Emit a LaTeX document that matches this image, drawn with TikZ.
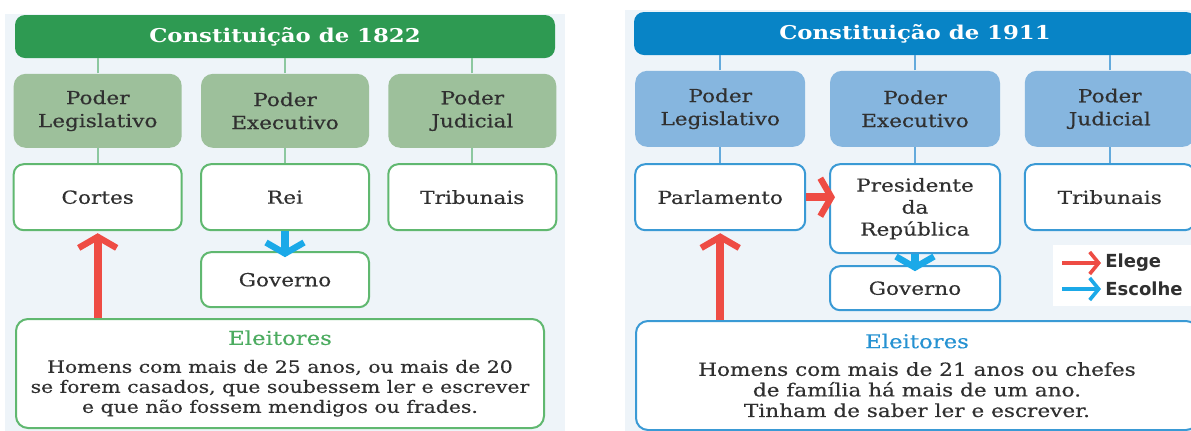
\documentclass[tikz,border=0pt]{standalone}
\usepackage{fontspec}
\setmainfont{DejaVu Serif}[FakeStretch=1.2, UprightFeatures={FakeBold=0.35}]
\newfontfamily\legfont{DejaVu Sans}
\usepackage{xcolor}
\usetikzlibrary{positioning, arrows.meta}
\definecolor{fundo}{RGB}{238, 244, 249}
\definecolor{texto}{RGB}{48, 48, 48}
\definecolor{gtitle}{RGB}{46, 154, 82}
\definecolor{gpoder}{RGB}{157, 192, 155}
\definecolor{gborda}{RGB}{96, 184, 112}
\definecolor{glink}{RGB}{140, 200, 160}
\definecolor{gelt}{RGB}{76, 172, 96}
\definecolor{btitle}{RGB}{8, 132, 198}
\definecolor{bpoder}{RGB}{134, 182, 223}
\definecolor{bborda}{RGB}{58, 154, 213}
\definecolor{blink}{RGB}{100, 170, 220}
\definecolor{belt}{RGB}{38, 146, 210}
\definecolor{seta1}{RGB}{238, 76, 68}
\definecolor{seta2}{RGB}{27, 169, 232}
\tikzset{
  titulo/.style={
    rounded corners=5pt, minimum height=21.5pt,
    text=white, font=\bfseries\fontsize{9.5}{11}\selectfont,
  },
  poder/.style={
    rounded corners=6pt, minimum height=37pt, minimum width=84pt,
    align=center, text=texto, font=\fontsize{9}{11.5}\selectfont,
  },
  orgao/.style={
    fill=white, line width=1pt, rounded corners=5pt,
    minimum height=33pt, minimum width=84pt,
    align=center, text=texto, font=\fontsize{9}{11}\selectfont,
  },
  eleit/.style={
    fill=white, line width=1pt, rounded corners=6pt,
    align=center, text=texto, font=\fontsize{8.5}{10}\selectfont,
  },
  liga/.style={line width=1pt},
  elege/.style={draw=seta1, line width=4pt,
    -{Straight Barb[length=5.5pt, width=19pt, line width'=3.2pt]}},
  escolhe/.style={draw=seta2, line width=4pt,
    -{Straight Barb[length=5.5pt, width=19pt, line width'=3.2pt]}},
  legseta/.style={line width=1.75pt,
    -{Straight Barb[length=4.5pt, width=11pt, line width'=1.8pt]}},
  legtxt/.style={inner sep=2pt, text=texto,
    font=\legfont\bfseries\fontsize{9}{10}\selectfont},
}
\newcommand{\eltit}[2]{\textcolor{#1}{\fontsize{9.5}{12}\selectfont #2}}

\begin{document}
\begin{tikzpicture}[x=1pt, y=-1pt, node distance=7.5pt and 9.25pt]
\clip (0,0) rectangle (595.5,215);

% fundos dos dois quadros
\fill[fundo] (2.5,7) rectangle (282.5,216);
\fill[fundo] (312.5,5) rectangle (597,216);

% ---- Constituição de 1822
\node[titulo, fill=gtitle, minimum width=270pt] (titL) at (142.5,18.25) {Constituição de 1822};

\node[poder, fill=gpoder, below=of titL] (exeL) {Poder\\Executivo};
\node[poder, fill=gpoder, left=of exeL] (legL) {Poder\\Legislativo};
\node[poder, fill=gpoder, right=of exeL] (judL) {Poder\\Judicial};

\node[orgao, draw=gborda, below=of legL] (cortes) {Cortes};
\node[orgao, draw=gborda, below=of exeL] (rei) {Rei};
\node[orgao, draw=gborda, below=of judL] (tribL) {Tribunais};
\node[orgao, draw=gborda, minimum height=27.5pt, below=10pt of rei] (govL) {Governo};

\node[eleit, draw=gborda, minimum width=264pt, minimum height=54.5pt,
      anchor=north west] (eleL) at (7.5,159)
  {\eltit{gelt}{Eleitores}\\[4pt]
   Homens com mais de 25 anos, ou mais de 20\\
   se forem casados, que soubessem ler e escrever\\
   e que não fossem mendigos ou frades.};

\foreach \p/\o in {legL/cortes, exeL/rei, judL/tribL} {
  \draw[liga, draw=glink] (\p.north) -- (\p.north |- titL.south);
  \draw[liga, draw=glink] (\p.south) -- (\o.north);
}
\draw[elege] (eleL.north -| cortes) -- ([yshift=-1pt]cortes.south);
\draw[escolhe] (rei.south) -- ([yshift=-3pt]govL.north);

% ---- Constituição de 1911
\node[titulo, fill=btitle, minimum width=281pt] (titR) at (457.5,16.75) {Constituição de 1911};

\node[poder, fill=bpoder, minimum width=85pt, minimum height=38pt,
      below=of titR] (exeR) {Poder\\Executivo};
\node[poder, fill=bpoder, minimum width=85pt, minimum height=38pt,
      left=12pt of exeR] (legR) {Poder\\Legislativo};
\node[poder, fill=bpoder, minimum width=85pt, minimum height=38pt,
      right=12pt of exeR] (judR) {Poder\\Judicial};

\node[orgao, draw=bborda, minimum width=85pt, below=8pt of legR] (parl) {Parlamento};
\node[orgao, draw=bborda, minimum width=85pt, minimum height=44.5pt,
      below=8pt of exeR] (pres) {Presidente\\da\\República};
\node[orgao, draw=bborda, minimum width=85pt, below=8pt of judR] (tribR) {Tribunais};
\node[orgao, draw=bborda, minimum width=85pt, minimum height=22pt,
      below=5.5pt of pres] (govR) {Governo};

\node[eleit, draw=bborda, minimum width=281pt, minimum height=54.5pt,
      font=\fontsize{9}{10.3}\selectfont, anchor=north west] (eleR) at (317.5,160)
  {\eltit{belt}{Eleitores}\\[3.5pt]
   Homens com mais de 21 anos ou chefes\\
   de família há mais de um ano.\\
   Tinham de saber ler e escrever.};

\foreach \p/\o in {legR/parl, exeR/pres, judR/tribR} {
  \draw[liga, draw=blink] (\p.north) -- (\p.north |- titR.south);
  \draw[liga, draw=blink] (\p.south) -- (\o.north);
}
\draw[elege] (eleR.north -| parl) -- ([yshift=-1pt]parl.south);
\draw[elege] (parl.east) -- ([xshift=3pt]pres.west |- parl.east);
\draw[escolhe] (pres.south) -- ([yshift=-3pt]govR.north);

% legenda
\node[fill=white, minimum width=75pt, minimum height=30.5pt,
      anchor=north west] (lgbox) at (526.5,122.5) {};
\node[legtxt, anchor=west] (lgElege) at (550.5,131.5) {Elege};
\node[legtxt, anchor=west] (lgEscolhe) at (550.5,144.5) {Escolhe};
\coordinate (lgA) at (531,131.5);
\coordinate (lgB) at (531,144.5);
\draw[legseta, draw=seta1] (lgA) -- (lgElege.west);
\draw[legseta, draw=seta2] (lgB) -- (lgEscolhe.west);

\end{tikzpicture}
\end{document}
